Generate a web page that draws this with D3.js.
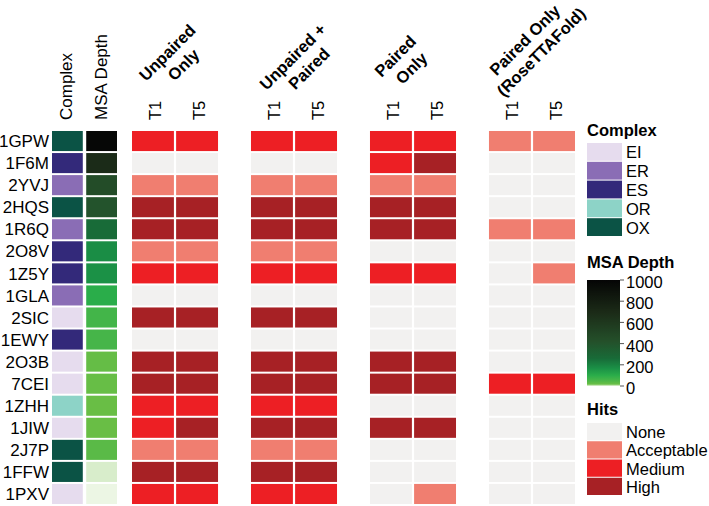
<!DOCTYPE html>
<html>
<head>
<meta charset="utf-8">
<script src="https://cdn.jsdelivr.net/npm/d3@7"></script>
<style>
body { margin: 0; background: #fff; }
text { font-family: "Liberation Sans", Arial, Helvetica, sans-serif; fill: #000; }
</style>
</head>
<body>
<script>
// targets, top to bottom
var targets = ["1GPW", "1F6M", "2YVJ", "2HQS", "1R6Q", "2O8V", "1Z5Y", "1GLA", "2SIC",
  "1EWY", "2O3B", "7CEI", "1ZHH", "1JIW", "2J7P", "1FFW", "1PXV"];
var complexType = ["OX", "ES", "ER", "OX", "ER", "ES", "ES", "ER", "EI",
  "ES", "EI", "EI", "OR", "EI", "OX", "OX", "EI"];
var msaDepth = [980, 690, 450, 400, 260, 175, 165, 100, 62, 58, 22, 20, 18, 18, 35, 3, 1];

var complexLevels = ["EI", "ER", "ES", "OR", "OX"];
var complexColors = ["#e6dcee", "#8a6db5", "#33297a", "#8dd3c7", "#0b5345"];

var hitLevels = ["None", "Acceptable", "Medium", "High"];
var hitColors = ["#f2f1f0", "#f07e70", "#ed1f24", "#a72125"];

var templates = ["T1", "T5"];
var groupLines = [["Unpaired", "Only"], ["Unpaired +", "Paired"], ["Paired", "Only"], ["Paired Only", "(RoseTTAFold)"]];

// hit level index per target, [T1, T5]
var unpairedOnly = [[2,2],[0,0],[1,1],[3,3],[3,3],[1,1],[2,2],[0,0],[3,3],[0,0],[3,3],[3,3],[2,2],[2,3],[1,1],[3,3],[2,2]];
var unpairedPaired = [[2,2],[0,0],[1,1],[3,3],[3,3],[1,1],[2,2],[0,0],[3,3],[0,0],[3,3],[3,3],[2,2],[3,3],[1,1],[3,3],[2,2]];
var pairedOnly = [[2,2],[2,3],[1,1],[3,3],[3,3],[0,0],[2,2],[0,0],[0,0],[0,0],[3,3],[3,3],[0,0],[3,3],[0,0],[0,0],[0,1]];
var pairedRF = [[1,1],[0,0],[0,0],[0,0],[1,1],[0,0],[0,1],[0,0],[0,0],[0,0],[0,0],[2,2],[0,0],[0,0],[0,0],[0,0],[0,0]];
var hitGroups = [unpairedOnly, unpairedPaired, pairedOnly, pairedRF];

var msaTicks = [0, 200, 400, 600, 800, 1000];
var msaStops = [0, 14, 60, 100, 170, 260, 420, 700, 1000];
var msaStopColors = ["#f6faf0", "#6cbf45", "#44b549", "#2aad4a", "#1a8f46", "#186b38", "#24502a", "#1b2a17", "#050505"];

var width = 709, height = 506;
var fs = 16.5;

var svg = d3.select("body").append("svg")
  .attr("width", width)
  .attr("height", height);

var y = d3.scaleBand().domain(targets).range([130, 505]).paddingInner(0.09).paddingOuter(0.045);
var xAnno = d3.scaleBand().domain(["Complex", "MSA Depth"]).range([52, 117]).paddingInner(0.1);
var xGroup = d3.scaleBand().domain(d3.range(4)).range([132, 575]).paddingInner(0.277);
var xT = d3.scaleBand().domain(templates).range([0, xGroup.bandwidth()]).paddingInner(0.05);

var complexColor = d3.scaleOrdinal().domain(complexLevels).range(complexColors);
var hitColor = d3.scaleOrdinal().domain(d3.range(4)).range(hitColors);
var msaColor = d3.scaleLinear().domain(msaStops).range(msaStopColors);

// row labels
svg.selectAll(".rowlab")
  .data(targets)
  .enter().append("text")
  .attr("x", 49)
  .attr("y", d => y(d) + y.bandwidth() / 2)
  .attr("dy", "0.36em")
  .attr("text-anchor", "end")
  .style("font-size", "17px")
  .text(d => d);

// annotation columns
svg.selectAll(".cplx")
  .data(targets)
  .enter().append("rect")
  .attr("x", xAnno("Complex"))
  .attr("y", d => y(d))
  .attr("width", xAnno.bandwidth())
  .attr("height", y.bandwidth())
  .attr("fill", (d, i) => complexColor(complexType[i]));

svg.selectAll(".msa")
  .data(targets)
  .enter().append("rect")
  .attr("x", xAnno("MSA Depth"))
  .attr("y", d => y(d))
  .attr("width", xAnno.bandwidth())
  .attr("height", y.bandwidth())
  .attr("fill", (d, i) => msaColor(msaDepth[i]));

xAnno.domain().forEach(function(c) {
  var cx = xAnno(c) + xAnno.bandwidth() / 2 + 5;
  svg.append("text")
    .attr("transform", "translate(" + cx + ",120) rotate(-90)")
    .style("font-size", "17px")
    .text(c);
});

// hits panels; header start point (baseline of first line) relative to panel centre
var headerStart = [[-29, 82], [-27.5, 91], [-31.5, 78], [-35.5, 76.5]];

hitGroups.forEach(function(grp, g) {
  var gx = xGroup(g);
  grp.forEach(function(pair, r) {
    templates.forEach(function(t, k) {
      svg.append("rect")
        .attr("x", gx + xT(t))
        .attr("y", y(targets[r]))
        .attr("width", xT.bandwidth())
        .attr("height", y.bandwidth())
        .attr("fill", hitColor(pair[k]));
    });
  });

  templates.forEach(function(t) {
    var cx = gx + xT(t) + xT.bandwidth() / 2 + 8;
    svg.append("text")
      .attr("transform", "translate(" + cx + ",120) rotate(-90)")
      .style("font-size", fs + "px")
      .text(t);
  });

  var hx = gx + xGroup.bandwidth() / 2 + headerStart[g][0];
  var hy = headerStart[g][1];
  var hg = svg.append("g")
    .attr("transform", "translate(" + hx + "," + hy + ") rotate(-45)")
    .style("font-size", "16.5px")
    .style("font-weight", "bold");
  var first = hg.append("text").attr("x", 0).attr("y", 0).text(groupLines[g][0]);
  var w1 = first.node().getComputedTextLength();
  hg.append("text")
    .attr("x", w1 / 2 + 3)
    .attr("y", 20)
    .attr("text-anchor", "middle")
    .text(groupLines[g][1]);
});

// legends
var lx = 587, keyW = 35;

svg.append("text").attr("x", lx).attr("y", 136)
  .style("font-size", fs + "px").style("font-weight", "bold").text("Complex");

var cKey = d3.scaleBand().domain(complexLevels).range([143, 237]);
complexLevels.forEach(function(c) {
  svg.append("rect")
    .attr("x", lx).attr("y", cKey(c))
    .attr("width", keyW).attr("height", cKey.bandwidth() - 1)
    .attr("fill", complexColor(c));
  svg.append("text")
    .attr("x", lx + 39).attr("y", cKey(c) + cKey.bandwidth() / 2)
    .attr("dy", "0.36em")
    .style("font-size", fs + "px").text(c);
});

svg.append("text").attr("x", lx).attr("y", 268)
  .style("font-size", fs + "px").style("font-weight", "bold").text("MSA Depth");

var barY = d3.scaleLinear().domain([0, 1000]).range([386, 280]);
var grad = svg.append("defs").append("linearGradient")
  .attr("id", "msa-grad")
  .attr("x1", "0%").attr("y1", "100%")
  .attr("x2", "0%").attr("y2", "0%");
d3.range(0, 1001, 10).forEach(function(v) {
  grad.append("stop")
    .attr("offset", (v / 10) + "%")
    .attr("stop-color", msaColor(v));
});
svg.append("rect")
  .attr("x", lx).attr("y", barY(1000))
  .attr("width", 33).attr("height", barY(0) - barY(1000))
  .attr("fill", "url(#msa-grad)");
msaTicks.forEach(function(v) {
  svg.append("line")
    .attr("x1", lx + 33).attr("x2", lx + 37)
    .attr("y1", barY(v)).attr("y2", barY(v))
    .attr("stroke", "#555").attr("stroke-width", 1);
  svg.append("text")
    .attr("x", lx + 39).attr("y", barY(v) + 2)
    .attr("dy", "0.36em")
    .style("font-size", fs + "px").text(v);
});

svg.append("text").attr("x", lx).attr("y", 415)
  .style("font-size", fs + "px").style("font-weight", "bold").text("Hits");

var hKey = d3.scaleBand().domain(d3.range(4)).range([423, 496]);
hitLevels.forEach(function(h, i) {
  svg.append("rect")
    .attr("x", lx).attr("y", hKey(i))
    .attr("width", keyW).attr("height", hKey.bandwidth() - 1)
    .attr("fill", hitColor(i));
  svg.append("text")
    .attr("x", lx + 39).attr("y", hKey(i) + hKey.bandwidth() / 2)
    .attr("dy", "0.36em")
    .style("font-size", fs + "px").text(h);
});
</script>
</body>
</html>
